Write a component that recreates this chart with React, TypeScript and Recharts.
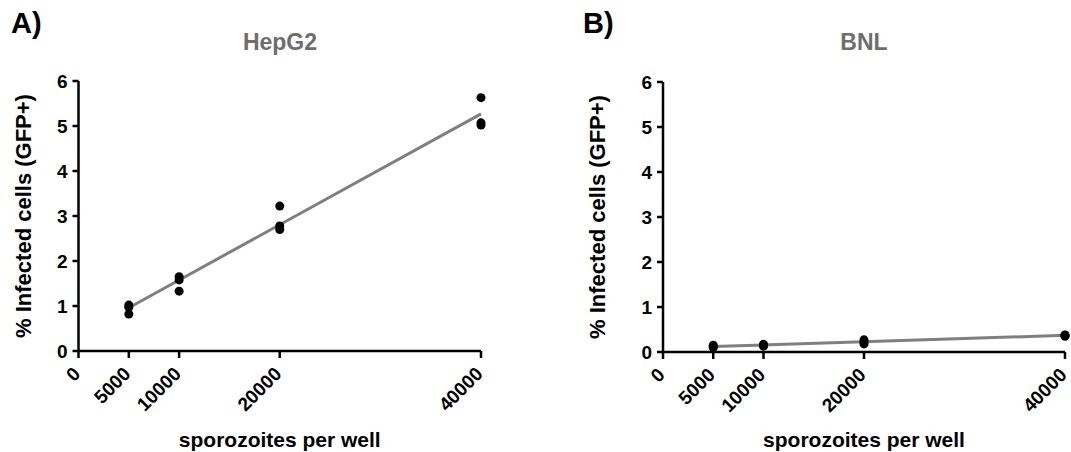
import React from 'react'
import { ScatterChart, Scatter, XAxis, YAxis, Label } from 'recharts'

// sporozoite doses (x) and three replicate wells per dose
const doses = [5000, 10000, 20000, 40000]
const xTicks = [0, 5000, 10000, 20000, 40000]
const yTicks = [0, 1, 2, 3, 4, 5, 6]

const hepg2Rep1 = [1.02, 1.65, 3.22, 5.63]
const hepg2Rep2 = [0.97, 1.58, 2.78, 5.07]
const hepg2Rep3 = [0.82, 1.33, 2.70, 5.02]

const bnlRep1 = [0.15, 0.17, 0.27, 0.38]
const bnlRep2 = [0.12, 0.15, 0.22, 0.37]
const bnlRep3 = [0.10, 0.13, 0.18, 0.35]

// linear fit endpoints
const fitDoses = [5000, 40000]
const hepg2Fit = [0.96, 5.27]
const bnlFit = [0.12, 0.37]

const FONT = '"Liberation Sans", Arial, sans-serif'

const toPoints = (reps: number[][]) =>
  reps.flatMap(rep => rep.map((v, i) => ({ x: doses[i], y: v })))

const toLine = (vals: number[]) => vals.map((v, i) => ({ x: fitDoses[i], y: v }))

const XTick = ({ x, y, payload }: { x?: number; y?: number; payload?: { value: number } }) => {
  const tx = (x ?? 0) + 3
  const ty = (y ?? 0) + 17
  return (
    <text x={tx} y={ty} textAnchor="end" fontFamily={FONT} fontWeight="bold" fontSize={19}
      fill="#000" transform={`rotate(-45 ${tx} ${ty})`}>
      {payload?.value}
    </text>
  )
}

interface PanelProps {
  reps: number[][]
  fit: number[]
  width: number
  yAxisWidth: number
  labelX: number
  right: number
  top: number
  bottom: number
}

function Panel({ reps, fit, width, yAxisWidth, labelX, right, top, bottom }: PanelProps) {
  const axisStyle = { stroke: '#000', strokeWidth: 2.5 }
  return (
    <ScatterChart width={width} height={452} margin={{ top, right, bottom: 0, left: 0 }}>
      <XAxis type="number" dataKey="x" domain={[0, 40000]} ticks={xTicks} interval={0}
        axisLine={axisStyle} tickLine={axisStyle} tickSize={7} tickMargin={0}
        height={452 - bottom} tick={<XTick />}>
        <Label value="sporozoites per well" position="insideBottom" offset={5}
          style={{ fontFamily: FONT, fontWeight: 'bold', fontSize: 21, fill: '#000' }} />
      </XAxis>
      <YAxis type="number" dataKey="y" domain={[0, 6]} ticks={yTicks} interval={0}
        axisLine={axisStyle} tickLine={axisStyle} tickSize={6} tickMargin={5}
        width={yAxisWidth}
        tick={{ fontFamily: FONT, fontWeight: 'bold', fontSize: 19, fill: '#000' }}>
        <Label value="% Infected cells (GFP+)" angle={-90} position="insideLeft"
          content={({ viewBox }: any) => {
            const cx = viewBox.x + labelX
            const cy = viewBox.y + viewBox.height / 2
            return (
              <text x={cx} y={cy} textAnchor="middle" dominantBaseline="central"
                transform={`rotate(-90 ${cx} ${cy})`} fontFamily={FONT} fontWeight="bold"
                fontSize={22} fill="#000">
                % Infected cells (GFP+)
              </text>
            )
          }} />
      </YAxis>
      <Scatter data={toLine(fit)} line={{ stroke: '#7f7f7f', strokeWidth: 3 }}
        shape={() => <g />} isAnimationActive={false} />
      <Scatter data={toPoints(reps)} fill="#000" shape="circle" isAnimationActive={false} />
    </ScatterChart>
  )
}

export default function App() {
  const textBase = { position: 'absolute' as const, fontFamily: FONT, fontWeight: 'bold' as const }
  return (
    <div style={{ position: 'absolute', left: 0, top: 0, width: 1071, height: 452, background: '#fff' }}>
      <div style={{ position: 'absolute', left: 0, top: 0 }}>
        <Panel reps={[hepg2Rep1, hepg2Rep2, hepg2Rep3]} fit={hepg2Fit}
          width={540} yAxisWidth={78.5} labelX={23} right={59} top={81} bottom={351} />
      </div>
      <div style={{ position: 'absolute', left: 540, top: 0 }}>
        <Panel reps={[bnlRep1, bnlRep2, bnlRep3]} fit={bnlFit}
          width={531} yAxisWidth={123} labelX={57} right={6} top={82} bottom={352} />
      </div>
      <div style={{ ...textBase, left: 11, top: 7, fontSize: 29, color: '#000' }}>A)</div>
      <div style={{ ...textBase, left: 583, top: 7, fontSize: 29, color: '#000' }}>B)</div>
      <div style={{ ...textBase, left: 180, width: 200, textAlign: 'center', top: 29, fontSize: 23, color: '#6e6e6e' }}>HepG2</div>
      <div style={{ ...textBase, left: 764, width: 200, textAlign: 'center', top: 29, fontSize: 23, color: '#6e6e6e' }}>BNL</div>
    </div>
  )
}
